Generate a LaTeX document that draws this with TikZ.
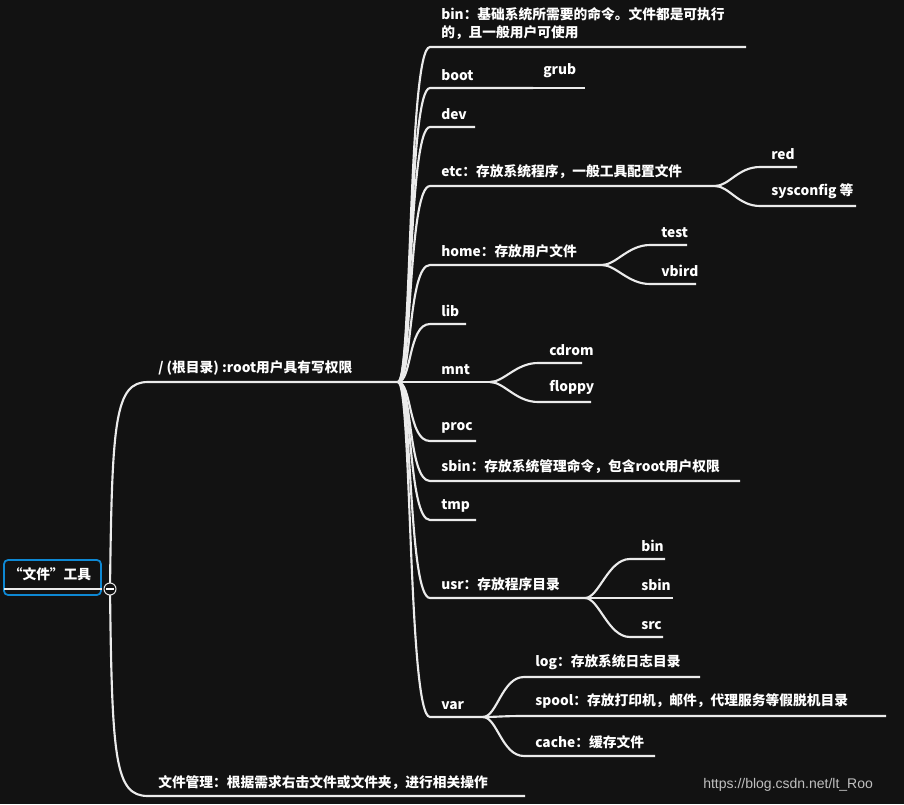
\documentclass[tikz,border=0pt]{standalone}
\usepackage{fontspec}
\setmainfont{Noto Sans CJK SC}
\newfontfamily\wmfont{Liberation Sans}
\usetikzlibrary{calc}
\begin{document}
\begin{tikzpicture}[x=0.75pt,y=-0.75pt,
  br/.style={draw=white!92!black,line width=1.6pt},
  lbl/.style={anchor=south west,inner sep=0pt,text=white,font=\bfseries\fontsize{10.3}{13.5}\selectfont}]
\fill[black!93!white] (0,0) rectangle (904,804);
\useasboundingbox (0,0) rectangle (904,804);
% root
\node[draw=cyan!70!blue,line width=1.3pt,rounded corners=3pt,minimum width=97*0.75pt,minimum height=35*0.75pt,inner sep=0pt] (root) at (52.5,577.5) {};
\node[lbl,anchor=center] (roott) at (50,574) {“文件”工具};
\draw[br,line width=2pt] (4,589) -- (102,589);
\coordinate (rp) at (110,589);
% level 1
\coordinate (ls) at (148,382); \coordinate (le) at (398,382);
\coordinate (ms) at (148,796); \coordinate (me) at (525,796);
\draw[br] (rp) .. controls (112,420) and (115,382) .. (ls) -- (le);
\draw[br] (rp) .. controls (112,760) and (115,796) .. (ms) -- (me);
\draw[white!90!black,fill=black!93!white,line width=0.8pt] (rp) circle (6);
\draw[white,line width=1pt] (106,589) -- (114,589);
\node[lbl] (lt) at (158,376) {/ (根目录) :root用户具有写权限};
\node[lbl] (mt) at (158,790) {文件管理：根据需求右击文件或文件夹，进行相关操作};
% level 2
\newcommand\kid[6]{% parent, name, xs, xe, y, text
  \coordinate (#2s) at (#3,#5); \coordinate (#2e) at (#4,#5);
  \draw[br] (#1) .. controls ($(#1)+(14,0)$) and ($(#2s)+(-22,0)$) .. (#2s) -- (#2e);
  \node[lbl] (#2t) at ($(#2s)+(11,-7)$) {#6};
}
\kid{le}{boot}{430}{533}{88}{boot}
\kid{le}{dev}{430}{475}{127}{dev}
\kid{le}{etc}{430}{715}{186}{etc：存放系统程序，一般工具配置文件}
\kid{le}{home}{430}{602}{265}{home：存放用户文件}
\kid{le}{lib}{430}{466}{324}{lib}
\kid{le}{mnt}{430}{490}{382}{mnt}
\kid{le}{proc}{430}{476}{441}{proc}
\kid{le}{sbin}{430}{740}{481}{sbin：存放系统管理命令，包含root用户权限}
\kid{le}{tmp}{430}{476}{520}{tmp}
\kid{le}{usr}{430}{585}{598}{usr：存放程序目录}
\kid{le}{var}{430}{483}{717}{var}
\coordinate (bins) at (430,47); \coordinate (bine) at (746,47);
\draw[br] (le) .. controls (412,382) and (408,47) .. (bins) -- (bine);
\node[lbl,align=left] (bint) at (441,40) {bin：基础系统所需要的命令。文件都是可执行\\的，且一般用户可使用};
% level 3
\coordinate (grubs) at (533,88); \coordinate (grube) at (585,88);
\draw[br] (boote) -- (grube);
\node[lbl] (grubt) at (543,78) {grub};
\kid{etce}{red}{760}{797}{167}{red}
\kid{etce}{syscfg}{760}{856}{206}{sysconfig 等}
\kid{homee}{test}{650}{687}{245}{test}
\kid{homee}{vbird}{650}{696}{284}{vbird}
\kid{mnte}{cdrom}{538}{582}{363}{cdrom}
\kid{mnte}{floppy}{538}{591}{402}{floppy}
\kid{usre}{ubin}{630}{665}{559}{bin}
\kid{usre}{usbin}{630}{673}{598}{sbin}
\kid{usre}{usrc}{630}{663}{637}{src}
\kid{vare}{log}{524}{700}{677}{log：存放系统日志目录}
\kid{vare}{spool}{524}{886}{716}{spool：存放打印机，邮件，代理服务等假脱机目录}
\kid{vare}{cache}{524}{655}{756}{cache：缓存文件}
\node[anchor=west,inner sep=0pt,text=white!75!black,font=\wmfont\fontsize{10.5}{12}\selectfont] (wm) at (703,785) {https://blog.csdn.net/lt\_Roo};
\end{tikzpicture}
\end{document}
